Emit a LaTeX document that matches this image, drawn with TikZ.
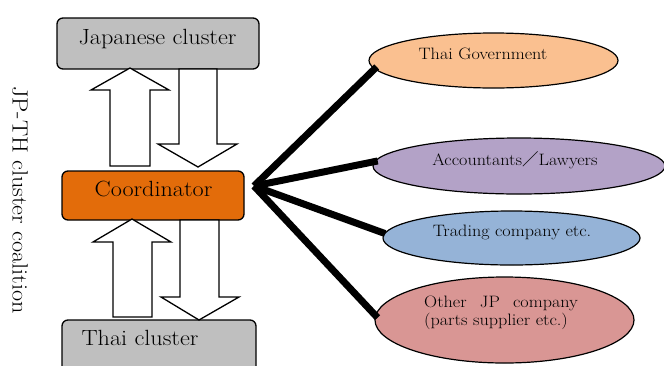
\documentclass[tikz,border=0pt]{standalone}
\usepackage{fontspec}
\setmainfont{Latin Modern Roman}[FakeStretch=1.1]
\newfontfamily\cjkfont{Noto Sans CJK JP}
\usetikzlibrary{shapes.geometric,calc}

\definecolor{clustergray}{HTML}{BFBFBF}
\definecolor{coordorange}{HTML}{E36C0A}
\definecolor{govpeach}{HTML}{FAC090}
\definecolor{lawlilac}{HTML}{B3A2C7}
\definecolor{tradeblue}{HTML}{95B3D7}
\definecolor{partsrose}{HTML}{D99694}

\tikzset{
  box/.style={draw=black, line width=1.3pt, rounded corners=6pt, inner sep=0pt},
  boxtext/.style={inner sep=0pt, font=\fontsize{22}{26}\selectfont},
  bubble/.style={draw=black, line width=1.2pt, ellipse, inner sep=0pt},
  bubbletext/.style={inner sep=0pt, font=\fontsize{16.5}{18.7}\selectfont},
  blockarrow/.style={draw=black, fill=white, line width=1.3pt, line join=miter},
  spoke/.style={draw=black, line width=7pt, line cap=butt},
}

\begin{document}
\begin{tikzpicture}[x=1pt, y=-1pt]
\useasboundingbox (0,0) rectangle (664,365);
\clip (0,0) rectangle (664,365);

% cluster boxes and the coordinator
\node[box, fill=clustergray, minimum width=202pt, minimum height=51pt] (jp) at (158,43.5) {};
\node[box, fill=coordorange, minimum width=182pt, minimum height=49pt] (coord) at (153,195.5) {};
\node[box, fill=clustergray, minimum width=194pt, minimum height=70pt] (th) at (159,355) {};

% exchange arrows between the clusters and the coordinator
\draw[blockarrow] (110,166) -- (110,90) -- (91,90) -- (130,68) -- (169,90) -- (150,90) -- (150,166) -- cycle;
\draw[blockarrow] (179,69) -- (179,144) -- (158,144) -- (198,167) -- (237,144) -- (217,144) -- (217,69) -- cycle;
\draw[blockarrow] (113,317) -- (113,242) -- (93,242) -- (132,219) -- (171,242) -- (152,242) -- (152,317) -- cycle;
\draw[blockarrow] (180,220) -- (180,297) -- (161,297) -- (199,320) -- (239,297) -- (219,297) -- (219,220) -- cycle;

% box labels
\node[boxtext, anchor=base] (jp-label) at (157.5,44.3) {Japanese cluster};
\node[boxtext, anchor=base] (coord-label) at (153.5,196) {Coordinator};
\node[boxtext, anchor=base] (th-label) at (140,345.7) {Thai cluster};

% side caption
\node[boxtext, rotate=-90] (coalition) at (20,200) {JP-TH cluster coalition};

% partner bubbles
\node[bubble, fill=govpeach, minimum width=249pt, minimum height=55pt] (govt) at (493.5,60.5) {};
\node[bubble, fill=lawlilac, minimum width=292pt, minimum height=56pt] (acct) at (519,166) {};
\node[bubble, fill=tradeblue, minimum width=257pt, minimum height=54pt] (trade) at (511.5,238) {};
\node[bubble, fill=partsrose, minimum width=259pt, minimum height=86pt] (parts) at (504.5,320) {};

\node[bubbletext, anchor=base] (govt-label) at (483,59.3) {Thai Government};
\node[bubbletext, anchor=base] (acct-label) at (515,165.7) {Accountants{\cjkfont ／}Lawyers};
\node[bubbletext, anchor=base] (trade-label) at (512,236) {Trading company etc.};
\node[bubbletext, anchor=base west] (parts-label1) at (424,307) {Other\hspace{0.8em}JP\hspace{0.8em}company};
\node[bubbletext, anchor=base west] (parts-label2) at (424,325.7) {(parts supplier etc.)};

% links from the coordinator to the partners
\coordinate (hub) at (254,186);
\draw[spoke] (hub) -- ($(govt.183)+(5,0)$);
\draw[spoke] (hub) -- ($(acct.178)+(3,0)$);
\draw[spoke] (hub) -- ($(trade.178)+(1,0)$);
\draw[spoke] (hub) -- ($(parts.179)+(3,0)$);
\end{tikzpicture}
\end{document}
